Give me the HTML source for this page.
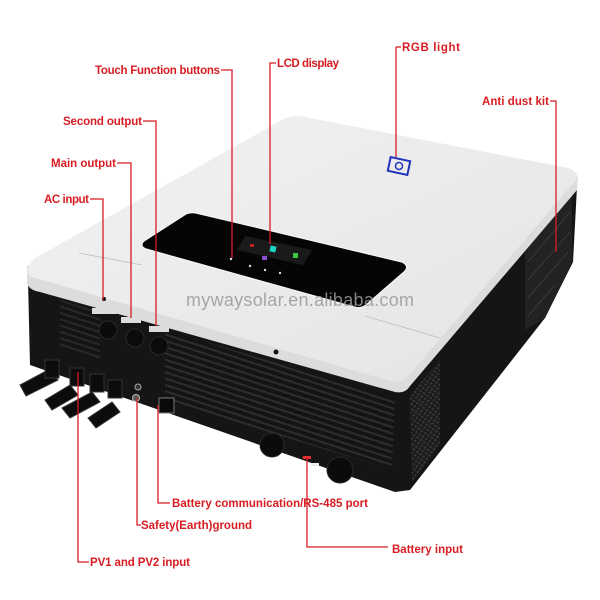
<!DOCTYPE html>
<html><head><meta charset="utf-8"><style>
html,body{margin:0;padding:0;background:#fff;width:600px;height:600px;overflow:hidden}
svg{display:block}
text{font-family:"Liberation Sans",sans-serif}
.l{font-size:11.5px;font-weight:bold;fill:#d71c22}
</style></head><body>
<svg width="600" height="600" viewBox="0 0 600 600" xmlns="http://www.w3.org/2000/svg">
<defs>
<linearGradient id="top" x1="0" y1="0" x2="1" y2="1">
<stop offset="0" stop-color="#f2f2f2"/><stop offset="1" stop-color="#e4e4e4"/></linearGradient>
<pattern id="vent" width="6" height="6" patternUnits="userSpaceOnUse" patternTransform="rotate(18)">
<rect width="6" height="6" fill="#141414"/><rect y="2" width="6" height="2" fill="#2e2e2e"/></pattern>
<pattern id="dots" width="4" height="4" patternUnits="userSpaceOnUse" patternTransform="rotate(-55)">
<rect width="4" height="4" fill="#1c1c1c"/><rect width="2" height="2" fill="#3a3a3a"/></pattern>
</defs>
<polygon points="28,280 403,390 577,187 573,262 545,318 410,490 395,492 30,365" fill="#151515"/>
<polygon points="165,330 395,398 392,470 165,400" fill="url(#vent)"/>
<polygon points="60,300 100,312 100,360 60,350" fill="url(#vent)" opacity="0.8"/>
<polygon points="410,395 440,360 440,445 412,482" fill="url(#dots)"/>
<polygon points="525,250 572,195 572,262 545,318 525,330" fill="#222"/>
<g stroke="#3a3a3a" stroke-width="1">
<line x1="528" y1="262" x2="570" y2="212"/><line x1="528" y1="280" x2="570" y2="232"/><line x1="528" y1="298" x2="568" y2="252"/><line x1="528" y1="316" x2="555" y2="285"/>
</g>
<path d="M27,265 L27,282 Q28,290 40,292 L395,392 Q405,394 410,386 L577,190 L578,176 L400,376 Z" fill="#dcdcdc"/>
<path d="M35,258 L282,120 Q292,114 305,117 L568,168 Q580,172 576,180 L410,374 Q402,384 390,381 L32,277 Q22,272 35,258 Z" fill="url(#top)"/>
<line x1="79" y1="253" x2="142" y2="265" stroke="#bdbdbd" stroke-width="0.8"/>
<line x1="365" y1="316" x2="440" y2="338" stroke="#bdbdbd" stroke-width="0.8"/>
<path d="M144,241 L186,214 Q190,212 196,213 L402,262 Q410,266 404,272 L366,305 Q361,309 354,307 L146,249 Q139,246 144,241 Z" fill="#050505" stroke="#f5f5f5" stroke-width="1.2"/>
<polygon points="237,250 245,236 312,250 303,265" fill="#1a1a1a"/>
<rect x="270" y="246" width="6" height="6" fill="#22d3c8" transform="rotate(12 273 249)"/>
<rect x="293" y="253" width="5" height="5" fill="#3cc83c"/>
<rect x="262" y="256" width="5" height="4" fill="#8a4fd0"/>
<rect x="250" y="244" width="4" height="3" fill="#c02020"/>
<g fill="#ddd"><circle cx="231" cy="259" r="1.2"/><circle cx="250" cy="266" r="1.2"/><circle cx="265" cy="270" r="1.2"/><circle cx="280" cy="273" r="1.2"/></g>
<g transform="translate(399,166) rotate(12)"><rect x="-10" y="-7" width="20" height="14" fill="none" stroke="#2233bb" stroke-width="2"/><circle cx="0" cy="0" r="3.5" fill="none" stroke="#2233bb" stroke-width="1.5"/></g>
<text x="300" y="306" font-size="18" fill="#9a9a9a" text-anchor="middle" textLength="228" opacity="0.85">mywaysolar.en.alibaba.com</text>
<circle cx="276" cy="352" r="2.5" fill="#111"/><circle cx="104" cy="299" r="2" fill="#111"/>
<g fill="#ddd"><rect x="92" y="308" width="25" height="6"/><rect x="121" y="317" width="20" height="6"/><rect x="149" y="326" width="20" height="6"/></g>
<g fill="#0b0b0b" stroke="#2a2a2a"><circle cx="108" cy="330" r="9"/><circle cx="135" cy="338" r="9"/><circle cx="159" cy="346" r="9"/><circle cx="272" cy="445" r="12"/><circle cx="340" cy="470" r="13"/></g>
<rect x="303" y="456" width="8" height="3" fill="#e53030"/><rect x="311" y="463" width="8" height="3" fill="#eee"/>
<circle cx="138" cy="387" r="3" fill="#333" stroke="#aaa"/><circle cx="136" cy="398" r="3.5" fill="#555" stroke="#bbb"/>
<rect x="159" y="398" width="15" height="15" fill="#0a0a0a" stroke="#777"/>
<g fill="#0c0c0c" stroke="#333" stroke-width="1">
<path d="M20,385 L48,370 L58,380 L26,396 Z"/><path d="M45,400 L70,385 L78,395 L52,410 Z"/><path d="M62,408 L92,392 L100,402 L70,418 Z"/><path d="M88,418 L112,402 L120,412 L96,428 Z"/>
<rect x="45" y="360" width="14" height="18"/><rect x="70" y="368" width="14" height="18"/><rect x="90" y="374" width="14" height="18"/><rect x="108" y="380" width="14" height="18"/>
</g>
<g stroke="#d71c22" stroke-width="1.3" fill="none">
<polyline points="396,47 396,157"/><line x1="396" y1="47" x2="401" y2="47"/>
<polyline points="276,63 270,63 270,244"/>
<polyline points="221,70 232,70 232,258"/>
<polyline points="550,101 556,101 556,252"/>
<polyline points="143,121 156,121 156,326"/>
<polyline points="117,163 131,163 131,318"/>
<polyline points="90,199 103,199 103,300"/>
<polyline points="158,405 158,503 170,503"/>
<polyline points="137,398 137,525 141,525"/>
<polyline points="78,372 78,562 89,562"/>
<polyline points="307,458 307,547 388,547"/>
</g>
<text class="l" x="402" y="51" textLength="58">RGB light</text>
<text class="l" x="277" y="67" textLength="62">LCD display</text>
<text class="l" x="95" y="74" textLength="125">Touch Function buttons</text>
<text class="l" x="482" y="105" textLength="67">Anti dust kit</text>
<text class="l" x="63" y="125" textLength="79">Second output</text>
<text class="l" x="51" y="167" textLength="65">Main output</text>
<text class="l" x="44" y="203" textLength="45">AC input</text>
<text class="l" x="172" y="507" textLength="196">Battery communication/RS-485 port</text>
<text class="l" x="141" y="529" textLength="111">Safety(Earth)ground</text>
<text class="l" x="90" y="566" textLength="100">PV1 and PV2 input</text>
<text class="l" x="392" y="553" textLength="71">Battery input</text>
</svg>
</body></html>
